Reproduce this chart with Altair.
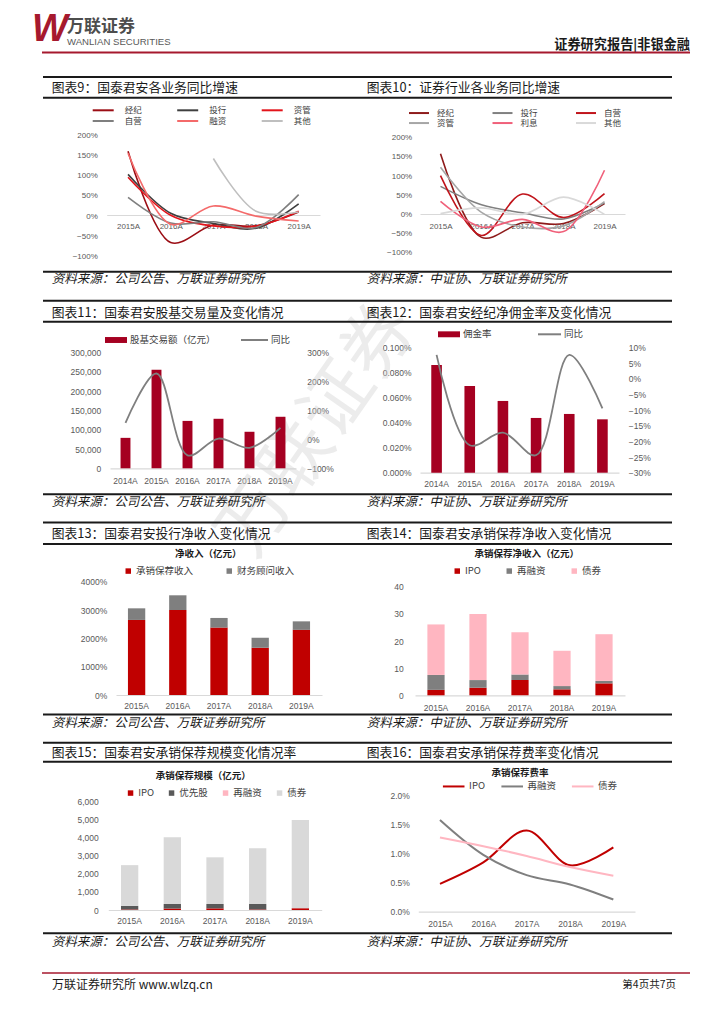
import altair as alt
import pandas as pd

# ---------------- data ----------------
years5 = ["2015A", "2016A", "2017A", "2018A", "2019A"]
years6 = ["2014A", "2015A", "2016A", "2017A", "2018A", "2019A"]

# 图表9 国泰君安各业务同比增速
c9_names = ["经纪", "投行", "资管", "自营", "融资", "其他"]
c9_jingji = [1.60, -0.65, -0.22, -0.24, 0.10]
c9_touhang = [1.03, 0.07, -0.18, -0.30, 0.30]
c9_ziguan = [0.96, 0.02, -0.24, -0.25, 0.12]
c9_ziying = [0.46, -0.17, -0.14, -0.28, 0.53]
c9_rongzi = [1.55, -0.20, 0.25, 0.00, -0.12]
c9_qita = [None, None, 1.42, 0.12, 0.10]

# 图表10 证券行业各业务同比增速
c10_names = ["经纪", "投行", "自营", "资管", "利息", "其他"]
c10_jingji = [1.58, -0.60, -0.22, -0.24, 0.28]
c10_touhang = [0.73, 0.25, 0.04, -0.12, 0.30]
c10_ziying = [1.01, -0.55, 0.53, -0.08, 0.54]
c10_ziguan = [1.23, 0.05, -0.33, -0.30, 0.33]
c10_lixi = [0.34, -0.33, -0.13, -0.45, 1.15]
c10_qita = [0.02, 0.17, 0.00, 0.45, 0.00]

# 图表11 股基交易额（亿元）与同比
c11_names = ["股基交易额（亿元）", "同比"]
c11_volume = [79000, 256000, 123000, 128500, 94800, 133700]
c11_yoy = [0.57, 2.28, -0.55, 0.03, -0.29, 0.40]

# 图表12 佣金率与同比
c12_names = ["佣金率", "同比"]
c12_rate = [0.000862, 0.000694, 0.000574, 0.000438, 0.000470, 0.000427]
c12_yoy = [0.077, -0.212, -0.172, -0.244, 0.077, -0.094]

# 图表13 投行净收入（亿元）
c13_names = ["承销保荐收入", "财务顾问收入"]
c13_underwriting = [26.5, 30.0, 23.8, 16.7, 23.0]
c13_advisory = [4.1, 5.2, 3.4, 3.5, 3.0]

# 图表14 承销保荐净收入（亿元）
c14_names = ["IPO", "再融资", "债券"]
c14_ipo = [2.0, 2.8, 5.6, 2.2, 4.4]
c14_refi = [5.5, 2.8, 2.1, 1.2, 0.9]
c14_bond = [18.6, 24.3, 15.5, 13.0, 17.2]

# 图表15 承销保荐规模（亿元）
c15_names = ["IPO", "优先股", "再融资", "债券"]
c15_ipo = [30, 80, 90, 30, 100]
c15_pref = [200, 250, 240, 300, 0]
c15_refi = [0, 0, 0, 0, 0]
c15_bond = [2240, 3680, 2570, 3070, 4850]

# 图表16 承销保荐费率
c16_names = ["IPO", "再融资", "债券"]
c16_ipo = [0.0048, 0.0085, 0.0140, 0.0080, 0.0111]
c16_refi = [0.0158, 0.0098, 0.0063, 0.0047, 0.0021]
c16_bond = [0.0128, 0.0113, 0.0096, 0.0077, 0.0062]

# tick labels
ticks_growth = [-1, -0.5, 0, 0.5, 1, 1.5, 2]
ticks_c11_left = [0, 50000, 100000, 150000, 200000, 250000, 300000]
ticks_c11_right = [-1, 0, 1, 2, 3]
ticks_c12_left = [0, 0.0002, 0.0004, 0.0006, 0.0008, 0.001]
ticks_c12_right = [-0.30, -0.25, -0.20, -0.15, -0.10, -0.05, 0, 0.05, 0.10]
ticks_c13 = [0, 10, 20, 30, 40]
ticks_c14 = [0, 10, 20, 30, 40]
ticks_c15 = [0, 1000, 2000, 3000, 4000, 5000, 6000]
ticks_c16 = [0, 0.005, 0.01, 0.015, 0.02]

panel_titles = [
    "图表9：国泰君安各业务同比增速", "图表10：证券行业各业务同比增速",
    "图表11：国泰君安股基交易量及变化情况", "图表12：国泰君安经纪净佣金率及变化情况",
    "图表13：国泰君安投行净收入变化情况", "图表14：国泰君安承销保荐净收入变化情况",
    "图表15：国泰君安承销保荐规模变化情况率", "图表16：国泰君安承销保荐费率变化情况",
]
src_company = "资料来源：公司公告、万联证券研究所"
src_csa = "资料来源：中证协、万联证券研究所"

# ---------------- style / layout ----------------
W, H = 708, 1008
M = 8
CJK = "Noto Sans CJK SC"
NUM = "Liberation Sans"
LABEL = "#595959"
DOMAIN = "#D9D9D9"
DARKRED = "#A6192E"


def px(v):
    return v - M


def long_df(cats, names, series):
    rows = []
    for k, (n, vals) in enumerate(zip(names, series)):
        for c, v in zip(cats, vals):
            if v is not None:
                rows.append({"cat": c, "series": n, "value": v, "k": k})
    return pd.DataFrame(rows)


def x_axis(axis_y, pad, size=8.5):
    return alt.Axis(orient="bottom", offset=px(axis_y) - H, title=None, ticks=False, tickSize=0,
                    domain=True, domainColor=DOMAIN, domainWidth=1.2, grid=False, labelAngle=0,
                    labelPadding=pad, labelFont=NUM, labelFontSize=size, labelColor=LABEL,
                    labelOverlap=False)


def y_left(right_edge, values, fmt, size=8.5):
    return alt.Axis(orient="left", offset=-(px(right_edge) + 2), values=values, format=fmt,
                    title=None, ticks=False, tickSize=0, domain=False, grid=False, labelPadding=2,
                    labelFont=NUM, labelFontSize=size, labelColor=LABEL, labelOverlap=False)


def y_right(left_edge, values, fmt, size=8.5):
    return alt.Axis(orient="right", offset=px(left_edge) - 2 - W, values=values, format=fmt,
                    title=None, ticks=False, tickSize=0, domain=False, grid=False, labelPadding=2,
                    labelFont=NUM, labelFontSize=size, labelColor=LABEL, labelOverlap=False)


def legend(xp, yc, size=9.5, **kw):
    sym_h = kw.get("symbolSize", 30) ** 0.5 + kw.get("symbolStrokeWidth", 1.5)
    h = max(sym_h, size)
    base = dict(orient="none", legendX=px(xp), legendY=px(yc - h / 2), title=None,
                direction="horizontal", padding=0, labelFont=CJK, labelFontSize=size,
                labelColor="#404040")
    base.update(kw)
    return alt.Legend(**base)


_one = pd.DataFrame({"t": [0]})


def text(s, xp, yp, size, color="#1A1A1A", weight="normal", align="left", font=CJK,
         style="normal", **kw):
    return alt.Chart(_one).mark_text(align=align, baseline="middle", font=font, fontSize=size,
                                     fontWeight=weight, fontStyle=style, color=color, **kw).encode(
        x=alt.value(px(xp)), y=alt.value(px(yp)), text=alt.value(s))


def hline(x1, x2, yp, color="#1A1A1A", width=2):
    return alt.Chart(_one).mark_rule(color=color, strokeWidth=width).encode(
        x=alt.value(px(x1)), x2=alt.value(px(x2)), y=alt.value(px(yp)))


def yscale(dom, bottom, top):
    return alt.Scale(domain=dom, range=[px(bottom), px(top)], nice=False, zero=False)


def band(cats, x0, x1, frac):
    pi = 1 - frac
    return alt.Scale(domain=cats, range=[px(x0), px(x1)], paddingInner=pi, paddingOuter=pi / 2)


RECT = "M-1,-0.27H1V0.27H-1Z"


def growth_panel(df, names, colors, x0, x1, xaxis_y, xpad, ybottom, ytop, lab_right,
                 leg_x, leg_y1, leg_y2, colpad, symsize, laboff):
    xenc = alt.X("cat:N", scale=alt.Scale(domain=years5, range=[px(x0), px(x1)], padding=0.5),
                 axis=x_axis(xaxis_y, xpad, 8))
    yenc = alt.Y("value:Q", scale=yscale([-1, 2], ybottom, ytop),
                 axis=y_left(lab_right, ticks_growth, ".0%", 8))
    layers = []
    for part, ly in ((slice(0, 3), leg_y1), (slice(3, 6), leg_y2)):
        nm = names[part]
        sub = df[df["series"].isin(nm)]
        layers.append(alt.Chart(sub).mark_line(interpolate="catmull-rom", strokeWidth=1.6).encode(
            x=xenc, y=yenc,
            color=alt.Color("series:N", scale=alt.Scale(domain=nm, range=colors[part]),
                            legend=legend(leg_x, ly, size=8.5, columnPadding=colpad,
                                          symbolType="stroke", symbolSize=symsize,
                                          symbolStrokeWidth=2, labelOffset=laboff)),
        ))
    return alt.layer(*layers).resolve_scale(color="independent")


# ---------------- 图表9 ----------------
df9 = long_df(years5, c9_names, [c9_jingji, c9_touhang, c9_ziguan, c9_ziying, c9_rongzi, c9_qita])
c9_colors = ["#9B0D14", "#3F3F3F", "#E3141B", "#7F7F7F", "#F46A6A", "#BFBFBF"]
p9 = growth_panel(df9, c9_names, c9_colors, 106.7, 320, 215, 7.8, 256.7, 135, 97.3,
                  91.7, 110.3, 121, 30.5, 441, 10)

# ---------------- 图表10 ----------------
df10 = long_df(years5, c10_names, [c10_jingji, c10_touhang, c10_ziying, c10_ziguan, c10_lixi, c10_qita])
c10_colors = ["#8E1B1B", "#808080", "#C0141B", "#A6A6A6", "#F0607A", "#D9D9D9"]
p10 = growth_panel(df10, c10_names, c10_colors, 420, 625, 214, 8.2, 252.7, 137.7, 411.7,
                   408, 112.8, 122.8, 33.5, 400, 7)

# ---------------- 图表11 ----------------
df11 = pd.DataFrame({"cat": years6, "volume": c11_volume, "yoy": c11_yoy,
                     "bar_name": c11_names[0], "line_name": c11_names[1]})
x11 = alt.X("cat:N", scale=band(years6, 110, 296, 0.32), axis=x_axis(468.3, 8.6))
bars11 = alt.Chart(df11).mark_bar().encode(
    x=x11,
    y=alt.Y("volume:Q", scale=yscale([0, 300000], 468.3, 352.7), axis=y_left(100.7, ticks_c11_left, ",d")),
    color=alt.Color("bar_name:N", scale=alt.Scale(domain=[c11_names[0]], range=["#A50021"]),
                    legend=legend(105, 340, symbolType=RECT, symbolSize=484, symbolStrokeWidth=0,
                                  labelOffset=3)),
)
line11 = alt.Chart(df11).mark_line(interpolate="catmull-rom", strokeWidth=1.8).encode(
    x=x11,
    y=alt.Y("yoy:Q", scale=yscale([-1, 3], 468.3, 352.7), axis=y_right(306.7, ticks_c11_right, ".0%")),
    color=alt.Color("line_name:N", scale=alt.Scale(domain=[c11_names[1]], range=["#7F7F7F"]),
                    legend=legend(240, 340, symbolType="stroke", symbolSize=729, symbolStrokeWidth=2,
                                  labelOffset=2)),
)
p11 = alt.layer(bars11, line11).resolve_scale(y="independent", color="independent")

# ---------------- 图表12 ----------------
df12 = pd.DataFrame({"cat": years6, "rate": c12_rate, "yoy": c12_yoy,
                     "bar_name": c12_names[0], "line_name": c12_names[1]})
x12 = alt.X("cat:N", scale=band(years6, 420, 619, 0.32), axis=x_axis(472.7, 6.8))
bars12 = alt.Chart(df12).mark_bar().encode(
    x=x12,
    y=alt.Y("rate:Q", scale=yscale([0, 0.001], 472.7, 347.7), axis=y_left(411, ticks_c12_left, ".3%")),
    color=alt.Color("bar_name:N", scale=alt.Scale(domain=[c12_names[0]], range=["#A50021"]),
                    legend=legend(438, 334.3, symbolType=RECT, symbolSize=484, symbolStrokeWidth=0,
                                  labelOffset=3)),
)
line12 = alt.Chart(df12).mark_line(interpolate="catmull-rom", strokeWidth=1.8).encode(
    x=x12,
    y=alt.Y("yoy:Q", scale=yscale([-0.3, 0.1], 472.7, 347.7), axis=y_right(628.3, ticks_c12_right, ".0%")),
    color=alt.Color("line_name:N", scale=alt.Scale(domain=[c12_names[1]], range=["#7F7F7F"]),
                    legend=legend(537, 334.3, symbolType="stroke", symbolSize=529, symbolStrokeWidth=2,
                                  labelOffset=2)),
)
p12 = alt.layer(bars12, line12).resolve_scale(y="independent", color="independent")


# ---------------- stacked bars ----------------
def stacked(df, names, colors, x0, x1, frac, xaxis_y, xpad, dom, bottom, top, lab_right, ticks, fmt, leg):
    return alt.Chart(df).mark_bar().encode(
        x=alt.X("cat:N", scale=band(years5, x0, x1, frac), axis=x_axis(xaxis_y, xpad)),
        y=alt.Y("value:Q", stack="zero", scale=yscale(dom, bottom, top), axis=y_left(lab_right, ticks, fmt)),
        color=alt.Color("series:N", scale=alt.Scale(domain=names, range=colors), legend=leg),
        order=alt.Order("k:Q", sort="ascending"),
    )


df13 = long_df(years5, c13_names, [c13_underwriting, c13_advisory])
p13 = stacked(df13, c13_names, ["#C00000", "#7F7F7F"], 116, 322, 0.42, 695, 6.9, [0, 40], 695, 581.7,
              106.7, ticks_c13, ".0%",
              legend(123.5, 570.7, symbolType="square", symbolSize=30, symbolStrokeWidth=0,
                     labelOffset=3, columnPadding=31))

df14 = long_df(years5, c14_names, [c14_ipo, c14_refi, c14_bond])
p14 = stacked(df14, c14_names, ["#C00000", "#7F7F7F", "#FFB6C1"], 415, 625, 0.41, 695.3, 8.2, [0, 40],
              695.3, 586.7, 403.3, ticks_c14, "d",
              legend(452.5, 570.7, symbolType="square", symbolSize=30, symbolStrokeWidth=0,
                     labelOffset=3, columnPadding=23))

df15 = long_df(years5, c15_names, [c15_ipo, c15_pref, c15_refi, c15_bond])
p15 = stacked(df15, c15_names, ["#C00000", "#595959", "#FFB6C1", "#D9D9D9"], 108.3, 321.7, 0.405, 910, 6.9,
              [0, 6000], 910, 801, 98.3, ticks_c15, ",d",
              legend(125.8, 792.7, symbolType="square", symbolSize=30, symbolStrokeWidth=0,
                     labelOffset=3, columnPadding=12))

# ---------------- 图表16 ----------------
df16 = long_df(years5, c16_names, [c16_ipo, c16_refi, c16_bond])
p16 = alt.Chart(df16).mark_line(interpolate="catmull-rom", strokeWidth=2).encode(
    x=alt.X("cat:N", scale=alt.Scale(domain=years5, range=[px(418.3), px(635)], padding=0.5),
            axis=x_axis(911.7, 7.5)),
    y=alt.Y("value:Q", scale=yscale([0, 0.02], 911.7, 795.7), axis=y_left(409.3, ticks_c16, ".1%")),
    color=alt.Color("series:N", scale=alt.Scale(domain=c16_names, range=["#C00000", "#7F7F7F", "#FFB6C1"]),
                    legend=legend(441.7, 786, symbolType="stroke", symbolSize=466, symbolStrokeWidth=2,
                                  labelOffset=3.4, columnPadding=11.5)),
)

# ---------------- decoration ----------------
deco = [
    text("万联证券", 318, 430, 72, color="#D0D0D0", align="center", angle=305, opacity=0.4),
    text("W", 50, 30, 38, color=DARKRED, weight="bold", align="center", font=NUM, style="italic"),
    text("万联证券", 67, 27, 17, color="#4D4D4D", weight="bold"),
    text("WANLIAN SECURITIES", 67, 41.5, 9.6, color="#595959", font=NUM),
    text("证券研究报告|非银金融", 690, 45, 13.2, weight="bold", align="right"),
    hline(42, 690, 52.5, color=DARKRED, width=2),
    hline(42, 690, 973, color=DARKRED, width=1.5),
    text("万联证券研究所 www.wlzq.cn", 52, 985, 12),
    text("第4页共7页", 676, 985, 10.5, align="right"),
    text("净收入（亿元）", 208.3, 554, 9.5, weight="bold", align="center"),
    text("承销保荐净收入（亿元）", 526.7, 554, 9.5, weight="bold", align="center"),
    text("承销保荐规模（亿元）", 203.3, 776, 9.5, weight="bold", align="center"),
    text("承销保荐费率", 520, 772.7, 9.5, weight="bold", align="center"),
]
row_top = [77, 300.7, 522.5, 742.7]
row_mid = [97.7, 321.7, 544, 761.7]
row_bot = [271.7, 494.3, 714.5, 933.3]
row_title_y = [87.7, 312.7, 534, 752.7]
row_src_y = [279, 501.5, 723, 941.7]
for r in range(4):
    deco += [hline(43, 672, row_top[r]), hline(43, 672, row_mid[r]), hline(43, 672, row_bot[r])]
    deco += [text(panel_titles[2 * r], 51.7, row_title_y[r], 12.8),
             text(panel_titles[2 * r + 1], 366.7, row_title_y[r], 12.8)]
    deco += [text(src_company, 51.7, row_src_y[r], 12.5, style="italic"),
             text(src_csa, 366.7, row_src_y[r], 12.5, style="italic")]

chart = alt.layer(*deco, p9, p10, p11, p12, p13, p14, p15, p16).resolve_scale(
    x="independent", y="independent", color="independent"
).properties(
    width=W, height=H, autosize=alt.AutoSizeParams(type="none"), padding=0, background="white"
).configure_view(strokeWidth=0)

chart.save("out.html", embed_options={"renderer": "svg", "actions": False})
